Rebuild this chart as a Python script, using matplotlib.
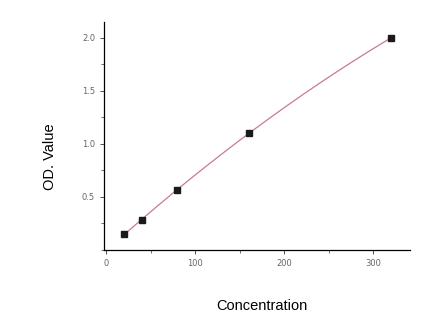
import matplotlib.pyplot as plt
import numpy as np
from matplotlib.ticker import MultipleLocator

conc = [20, 40, 80, 160, 320]
od = [0.15, 0.28, 0.57, 1.10, 2.00]

fig = plt.figure(figsize=(4.45, 3.32), dpi=100)
ax = fig.add_axes([0.234, 0.247, 0.687, 0.687])

# fitted curve (quadratic) through the standards
coef = np.polyfit(conc, od, 2)
xs = np.linspace(conc[0], conc[-1], 200)
ax.plot(xs, np.polyval(coef, xs), color='#c77a90', lw=0.9, zorder=2)
ax.plot(conc, od, 's', color='#1a1a1a', ms=4.5, zorder=3)

ax.set_xlim(-2.2, 341)
ax.set_ylim(0, 2.15)
ax.set_xticks([0, 100, 200, 300])
ax.set_yticks([0.5, 1.0, 1.5, 2.0])
ax.xaxis.set_minor_locator(MultipleLocator(50))
ax.yaxis.set_minor_locator(MultipleLocator(0.25))
ax.tick_params(which='major', length=3, width=0.6, labelsize=6, labelcolor='#666666', color='#333333')
ax.tick_params(which='minor', length=2, width=0.5, color='#333333')
for s in ['top', 'right']:
    ax.spines[s].set_visible(False)
for s in ['left', 'bottom']:
    ax.spines[s].set_linewidth(0.9)

ax.set_xlabel('Concentration', fontsize=10.5, family='Liberation Sans')
ax.set_ylabel('OD. Value', fontsize=10.5, family='Liberation Sans')
ax.xaxis.set_label_coords(0.516, -0.215)
ax.yaxis.set_label_coords(-0.155, 0.408)

fig.savefig('out.png', dpi=100)
